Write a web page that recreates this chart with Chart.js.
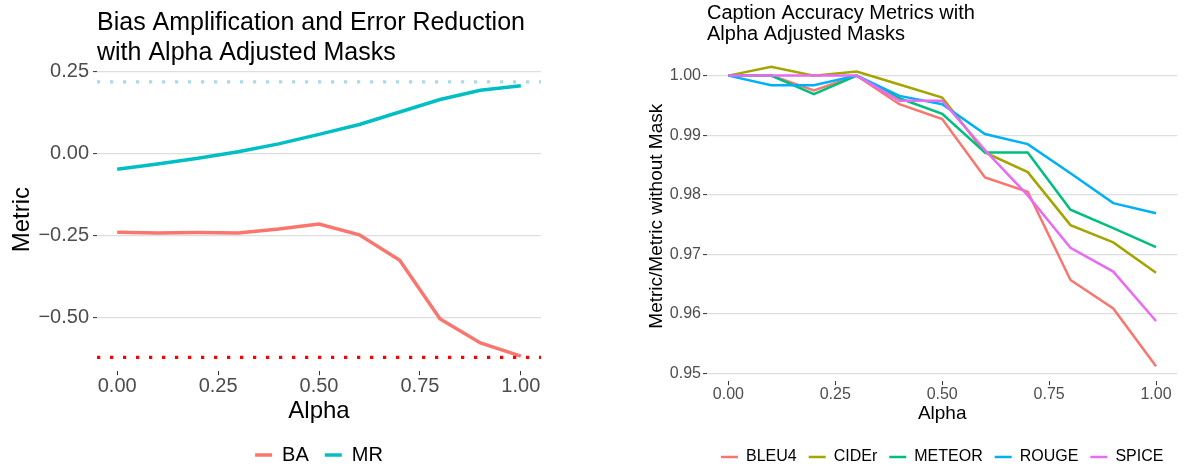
<!DOCTYPE html>
<html>
<head>
<meta charset="utf-8">
<script src="https://cdn.jsdelivr.net/npm/chart.js@4.4.1/dist/chart.umd.min.js"></script>
<style>
  html, body { margin: 0; padding: 0; background: #fff; overflow: hidden; width: 1186px; height: 466px; }
  #biasChart { position: absolute; left: 0; top: 0; }
  #captionChart { position: absolute; left: 600px; top: 0; }
</style>
</head>
<body>
<canvas id="biasChart" width="600" height="475"></canvas>
<canvas id="captionChart" width="586" height="475"></canvas>
<script>
// data
const alpha = [0, 0.1, 0.2, 0.3, 0.4, 0.5, 0.6, 0.7, 0.8, 0.9, 1.0];
const xTicks = [0, 0.25, 0.5, 0.75, 1.0];

// left panel
const baValues = [-0.239, -0.241, -0.240, -0.241, -0.229, -0.214, -0.247, -0.324, -0.503, -0.576, -0.616];
const mrValues = [-0.047, -0.031, -0.014, 0.006, 0.030, 0.059, 0.089, 0.127, 0.165, 0.193, 0.207];
const baRef = -0.62;
const mrRef = 0.219;
const biasTicks = [-0.5, -0.25, 0, 0.25];

// right panel
const bleu4 = [1.0, 1.0, 0.9975, 1.0, 0.9952, 0.9927, 0.9829, 0.9805, 0.9657, 0.9609, 0.9512];
const cider = [1.0, 1.0015, 1.0, 1.0007, 0.9985, 0.9963, 0.9871, 0.9838, 0.9749, 0.9720, 0.9669];
const meteor = [1.0, 1.0, 0.9969, 1.0, 0.9962, 0.9936, 0.9871, 0.9871, 0.9775, 0.9744, 0.9712];
const rouge = [1.0, 0.9984, 0.9984, 1.0, 0.9966, 0.9952, 0.9902, 0.9885, 0.9836, 0.9786, 0.9769];
const spice = [1.0, 1.0, 1.0, 1.0, 0.9958, 0.9958, 0.9875, 0.9799, 0.9711, 0.9671, 0.9588];
const captionTicks = [0.95, 0.96, 0.97, 0.98, 0.99, 1.00];

const FONT = "'Liberation Sans', Arial, Helvetica, sans-serif";
Chart.defaults.font.family = FONT;
Chart.defaults.animation = false;

const toPoints = ys => ys.map((y, i) => ({ x: alpha[i], y: y }));
const fmt = v => v.toFixed(2).replace('-', '\u2212');

function lineSet(label, values, color, width, order) {
    return {
        label: label,
        data: toPoints(values),
        borderColor: color,
        backgroundColor: color,
        borderWidth: width,
        pointRadius: 0,
        tension: 0,
        order: order
    };
}

function refLine(y, color, width, gap) {
    return {
        label: '',
        data: [{ x: -0.05, y: y }, { x: 1.05, y: y }],
        borderColor: color,
        borderWidth: width,
        borderDash: [width, gap],
        borderCapStyle: 'butt',
        pointRadius: 0,
        order: 0
    };
}

function buildOptions(o) {
    return {
        responsive: false,
        maintainAspectRatio: false,
        layout: { padding: { left: 0, top: 0, bottom: 0, right: o.padRight } },
        scales: {
            x: {
                type: 'linear',
                min: -0.05,
                max: 1.05,
                afterBuildTicks: a => { a.ticks = xTicks.map(v => ({ value: v })); },
                afterFit: s => { s.height = o.xHeight; },
                grid: { drawOnChartArea: false, tickLength: 4, tickColor: '#333', tickWidth: 1 },
                border: { display: false },
                ticks: {
                    autoSkip: false, maxRotation: 0, color: '#4D4D4D', padding: 1,
                    font: { size: o.tickSize, lineHeight: 1 },
                    callback: v => fmt(v)
                },
                title: {
                    display: true, text: 'Alpha', color: '#000',
                    font: { size: o.axisSize, lineHeight: 1.2 },
                    padding: { top: 0, bottom: o.xTitlePad }
                }
            },
            y: {
                min: o.yMin,
                max: o.yMax,
                afterBuildTicks: a => { a.ticks = o.yTicks.map(v => ({ value: v })); },
                afterFit: s => { s.width = o.yWidth; },
                grid: { color: '#DEDEDE', lineWidth: 1.2, tickLength: 4, tickColor: '#333', tickWidth: 1 },
                border: { display: false },
                ticks: {
                    autoSkip: false, color: '#4D4D4D', padding: o.yTickPad,
                    font: { size: o.tickSize },
                    callback: v => fmt(v)
                },
                title: {
                    display: true, text: o.yTitle, color: '#000',
                    font: { size: o.axisSize, lineHeight: 1.2 },
                    padding: { top: o.yTitlePad, bottom: 0 }
                }
            }
        },
        plugins: {
            title: {
                display: true,
                text: o.title,
                align: 'start',
                fullSize: false,
                color: '#000',
                font: { size: o.titleSize, weight: 'normal', lineHeight: o.titleLH },
                padding: o.titlePad
            },
            legend: {
                position: 'bottom',
                fullSize: false,
                labels: {
                    usePointStyle: true,
                    pointStyle: 'line',
                    pointStyleWidth: 17,
                    padding: o.legendPad,
                    color: '#000',
                    font: { size: o.legendSize },
                    filter: item => item.text !== '',
                    // keep the dataset order, not the draw order
                    sort: (a, b) => a.datasetIndex - b.datasetIndex
                }
            },
            tooltip: { enabled: false }
        }
    };
}

// 1. Bias amplification / error reduction
new Chart(document.getElementById('biasChart'), {
    type: 'line',
    data: {
        datasets: [
            lineSet('BA', baValues, '#F8766D', 3.5, 2),
            lineSet('MR', mrValues, '#00BFC4', 3.5, 1),
            refLine(mrRef, '#ADD8E6', 3.25, 9.75),
            refLine(baRef, '#FF0000', 3.25, 9.75)
        ]
    },
    options: buildOptions({
        padRight: 59, xHeight: 57.8, yWidth: 97,
        yMin: -0.662, yMax: 0.261, yTicks: biasTicks,
        tickSize: 20, axisSize: 24, titleSize: 25, titleLH: 1.2,
        titlePad: { top: 8, bottom: 0 },
        xTitlePad: 3, yTitlePad: 8.3, yTickPad: 4,
        yTitle: 'Metric',
        title: ['Bias Amplification and Error Reduction', 'with Alpha Adjusted Masks'],
        legendPad: 16, legendSize: 20
    })
});

// 2. Caption accuracy metrics
const captionColors = ['#F8766D', '#A3A500', '#00BF7D', '#00B0F6', '#E76BF3'];
new Chart(document.getElementById('captionChart'), {
    type: 'line',
    data: {
        datasets: [
            lineSet('BLEU4', bleu4, captionColors[0], 2.5, 5),
            lineSet('CIDEr', cider, captionColors[1], 2.5, 4),
            lineSet('METEOR', meteor, captionColors[2], 2.5, 3),
            lineSet('ROUGE', rouge, captionColors[3], 2.5, 2),
            lineSet('SPICE', spice, captionColors[4], 2.5, 1)
        ]
    },
    options: buildOptions({
        padRight: 8.6, xHeight: 55.8, yWidth: 107,
        yMin: 0.9487, yMax: 1.0041, yTicks: captionTicks,
        tickSize: 16, axisSize: 19, titleSize: 20, titleLH: 1.05,
        titlePad: { top: 2.6, bottom: 6.6 },
        xTitlePad: 12.2, yTitlePad: 45.3, yTickPad: 2,
        yTitle: 'Metric/Metric without Mask',
        title: ['Caption Accuracy Metrics with', 'Alpha Adjusted Masks'],
        legendPad: 12, legendSize: 16
    })
});
</script>
</body>
</html>
